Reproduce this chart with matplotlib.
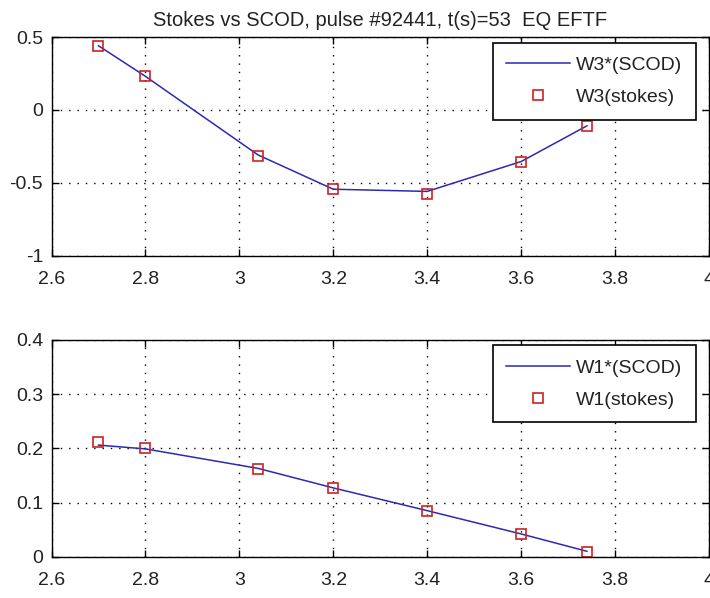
import matplotlib
matplotlib.use("Agg")
import matplotlib.pyplot as plt

# radial positions (m)
r_stokes = [2.70, 2.80, 3.04, 3.20, 3.40, 3.60, 3.74]

# W3 profile: SCOD reconstruction vs Stokes
w3_scod = [0.44, 0.23, -0.31, -0.545, -0.56, -0.355, -0.11]
w3_stokes = [0.44, 0.23, -0.32, -0.545, -0.58, -0.355, -0.11]

# W1 profile: SCOD reconstruction vs Stokes
w1_scod = [0.206, 0.199, 0.163, 0.127, 0.085, 0.042, 0.010]
w1_stokes = [0.212, 0.200, 0.161, 0.127, 0.084, 0.042, 0.009]

xticks = [2.6, 2.8, 3.0, 3.2, 3.4, 3.6, 3.8, 4.0]
xticklabels = ["2.6", "2.8", "3", "3.2", "3.4", "3.6", "3.8", "4"]
yticks_top = [-1, -0.5, 0, 0.5]
yticklabels_top = ["-1", "-0.5", "0", "0.5"]
yticks_bot = [0, 0.1, 0.2, 0.3, 0.4]
yticklabels_bot = ["0", "0.1", "0.2", "0.3", "0.4"]

title = "Stokes vs SCOD, pulse #92441, t(s)=53  EQ EFTF"

plt.rcParams["font.family"] = ["Liberation Sans", "DejaVu Sans"]
plt.rcParams["font.size"] = 14

fig = plt.figure(figsize=(7.10, 5.98), dpi=100)
W, H = 710, 598


def px_axes(left, top, right, bottom):
    return fig.add_axes([left / W, 1 - bottom / H, (right - left) / W, (bottom - top) / H])


ax1 = px_axes(51.5, 37, 709, 255.5)
ax2 = px_axes(51.5, 340, 709, 556.7)

line_col = "#2a2ab4"
mark_col = "#cc2222"
text_col = "#222222"


def style(ax, yticks, yticklabels, ylim):
    ax.set_xlim(2.6, 4.0)
    ax.set_ylim(*ylim)
    ax.set_xticks(xticks)
    ax.set_xticklabels(xticklabels)
    ax.set_yticks(yticks)
    ax.set_yticklabels(yticklabels)
    ax.tick_params(direction="in", length=5, width=1, top=True, right=True,
                   labelsize=14, colors="black", labelcolor=text_col)
    ax.tick_params(axis="x", pad=11)
    ax.tick_params(axis="y", pad=6)
    for s in ax.spines.values():
        s.set_color("black")
        s.set_linewidth(1)
    ax.grid(True, color="black", linestyle=(0, (1, 5)), linewidth=1.0)
    ax.set_axisbelow(True)


def legend(ax, labels):
    lg = ax.legend(labels, loc="upper right",
                   bbox_to_anchor=(1 - 13 / 657.5, 1 - 5.5 / 218.5),
                   borderaxespad=0, fancybox=False, framealpha=1,
                   edgecolor="black", fontsize=14, handlelength=3.3,
                   handletextpad=0.3, borderpad=0.7, labelspacing=0.75,
                   numpoints=1)
    lg.get_frame().set_linewidth(1.2)
    for t in lg.get_texts():
        t.set_color(text_col)


ax1.plot(r_stokes, w3_scod, color=line_col, linewidth=1.1)
ax1.plot(r_stokes, w3_stokes, linestyle="none", marker="s", markersize=7.5,
         markerfacecolor="none", markeredgecolor=mark_col, markeredgewidth=1.2)
style(ax1, yticks_top, yticklabels_top, (-1, 0.5))
legend(ax1, ["W3*(SCOD)", "W3(stokes)"])
ax1.set_title(title, fontsize=14.5, pad=8, color=text_col)

ax2.plot(r_stokes, w1_scod, color=line_col, linewidth=1.1)
ax2.plot(r_stokes, w1_stokes, linestyle="none", marker="s", markersize=7.5,
         markerfacecolor="none", markeredgecolor=mark_col, markeredgewidth=1.2)
style(ax2, yticks_bot, yticklabels_bot, (0, 0.4))
legend(ax2, ["W1*(SCOD)", "W1(stokes)"])

fig.savefig("out.png", dpi=100)
